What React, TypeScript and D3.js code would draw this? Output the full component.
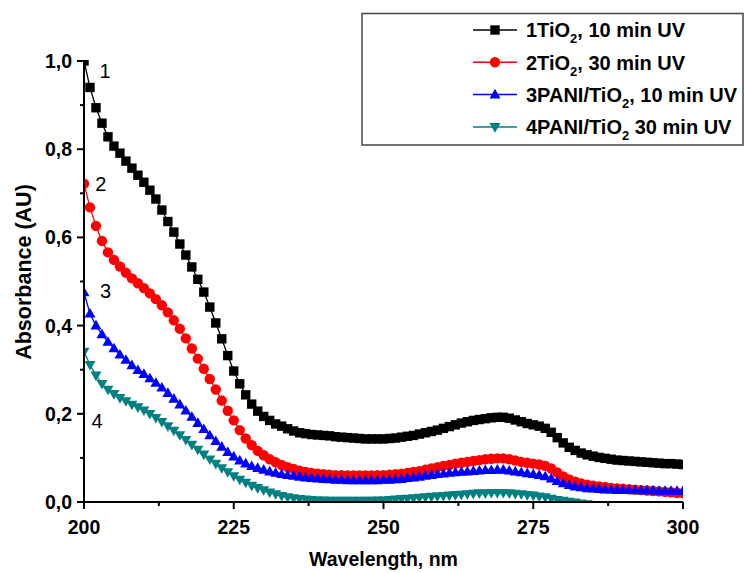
import React from "react";
import * as d3 from "d3";

const wavelengths = d3.range(200, 301, 1);

const series1 = [
  1.000, 0.940, 0.894, 0.859, 0.828, 0.807, 0.791, 0.773, 0.757, 0.741,
  0.725, 0.707, 0.687, 0.662, 0.636, 0.612, 0.585, 0.560, 0.533, 0.505,
  0.476, 0.442, 0.406, 0.370, 0.332, 0.297, 0.268, 0.243, 0.222, 0.206,
  0.194, 0.185, 0.177, 0.172, 0.166, 0.161, 0.157, 0.155, 0.153, 0.152,
  0.151, 0.150, 0.148, 0.147, 0.146, 0.145, 0.144, 0.143, 0.143, 0.143,
  0.143, 0.144, 0.145, 0.147, 0.149, 0.151, 0.154, 0.157, 0.160, 0.163,
  0.167, 0.171, 0.175, 0.179, 0.182, 0.185, 0.187, 0.189, 0.191, 0.192,
  0.192, 0.190, 0.186, 0.182, 0.178, 0.175, 0.172, 0.167, 0.158, 0.146,
  0.134, 0.124, 0.117, 0.111, 0.107, 0.104, 0.101, 0.099, 0.097, 0.095,
  0.094, 0.093, 0.092, 0.091, 0.090, 0.089, 0.088, 0.087, 0.087, 0.086,
  0.085,
];

const series2 = [
  0.722, 0.668, 0.626, 0.592, 0.566, 0.549, 0.534, 0.520, 0.507, 0.496,
  0.485, 0.473, 0.460, 0.446, 0.430, 0.412, 0.393, 0.371, 0.348, 0.325,
  0.302, 0.279, 0.255, 0.230, 0.207, 0.185, 0.163, 0.144, 0.129, 0.116,
  0.106, 0.097, 0.090, 0.084, 0.079, 0.075, 0.071, 0.068, 0.066, 0.064,
  0.063, 0.062, 0.061, 0.061, 0.060, 0.060, 0.060, 0.060, 0.060, 0.061,
  0.061, 0.062, 0.063, 0.064, 0.066, 0.068, 0.070, 0.073, 0.076, 0.079,
  0.082, 0.084, 0.087, 0.089, 0.091, 0.093, 0.095, 0.097, 0.098, 0.099,
  0.099, 0.097, 0.094, 0.091, 0.089, 0.087, 0.085, 0.082, 0.076, 0.067,
  0.058, 0.051, 0.046, 0.042, 0.039, 0.037, 0.035, 0.034, 0.032, 0.031,
  0.030, 0.029, 0.028, 0.027, 0.026, 0.025, 0.024, 0.023, 0.022, 0.021,
  0.020,
];

const series3 = [
  0.475, 0.427, 0.400, 0.380, 0.363, 0.348, 0.334, 0.322, 0.310, 0.299,
  0.290, 0.280, 0.270, 0.259, 0.247, 0.234, 0.221, 0.207, 0.193, 0.179,
  0.165, 0.151, 0.138, 0.125, 0.113, 0.103, 0.094, 0.087, 0.081, 0.077,
  0.073, 0.069, 0.066, 0.063, 0.061, 0.059, 0.057, 0.055, 0.054, 0.053,
  0.052, 0.051, 0.050, 0.050, 0.049, 0.049, 0.049, 0.049, 0.049, 0.049,
  0.050, 0.050, 0.051, 0.052, 0.054, 0.055, 0.057, 0.059, 0.061, 0.063,
  0.064, 0.066, 0.067, 0.068, 0.069, 0.070, 0.071, 0.072, 0.072, 0.073,
  0.073, 0.071, 0.069, 0.067, 0.065, 0.063, 0.061, 0.058, 0.053, 0.047,
  0.042, 0.038, 0.035, 0.033, 0.031, 0.030, 0.029, 0.028, 0.028, 0.027,
  0.027, 0.027, 0.026, 0.026, 0.026, 0.026, 0.025, 0.025, 0.025, 0.025,
  0.025,
];

const series4 = [
  0.341, 0.311, 0.287, 0.268, 0.255, 0.245, 0.236, 0.229, 0.221, 0.215,
  0.208, 0.200, 0.191, 0.182, 0.172, 0.162, 0.152, 0.141, 0.130, 0.119,
  0.108, 0.097, 0.087, 0.077, 0.068, 0.059, 0.051, 0.044, 0.037, 0.032,
  0.027, 0.022, 0.018, 0.014, 0.011, 0.009, 0.007, 0.006, 0.005, 0.004,
  0.004, 0.003, 0.003, 0.003, 0.003, 0.003, 0.003, 0.003, 0.003, 0.004,
  0.004, 0.005, 0.006, 0.007, 0.008, 0.009, 0.010, 0.011, 0.012, 0.013,
  0.014, 0.015, 0.016, 0.017, 0.018, 0.019, 0.020, 0.020, 0.021, 0.021,
  0.021, 0.020, 0.019, 0.018, 0.016, 0.015, 0.013, 0.011, 0.008, 0.005,
  0.003, 0.001, -0.001, -0.003, -0.005, -0.007, -0.009, -0.010, -0.011, -0.012,
  -0.013, -0.014, -0.015, -0.015, -0.016, -0.016, -0.017, -0.017, -0.018, -0.018,
  -0.018,
];

const curveNumbers = ["1", "2", "3", "4"];
const curveNumberPos = [
  { nm: 203.5, v: 0.962 },
  { nm: 202.8, v: 0.706 },
  { nm: 203.6, v: 0.463 },
  { nm: 202.2, v: 0.168 },
];

const legendPrefix = ["1TiO", "2TiO", "3PANI/TiO", "4PANI/TiO"];
const legendSub = ["2", "2", "2", "2"];
const legendSuffix = [", 10 min UV", ", 30 min UV", ", 10 min UV", " 30 min UV"];

const colors = ["#000000", "#ff0000", "#0000ff", "#008080"];
const markerTypes = ["square", "circle", "triangle", "triangleDown"];

const xTicks = [200, 225, 250, 275, 300];
const xMinorTicks = [212.5, 237.5, 262.5, 287.5];
const yTicks = [0, 0.2, 0.4, 0.6, 0.8, 1.0];
const yMinorTicks = [0.1, 0.3, 0.5, 0.7, 0.9];

const xTitle = "Wavelength, nm";
const yTitle = "Absorbance (AU)";

const W = 744;
const H = 573;
const left = 84;
const right = 683;
const top = 61;
const bottom = 502;

const FONT = "Arial, 'Liberation Sans', sans-serif";

function Marker({ type, x, y, color }: { type: string; x: number; y: number; color: string }) {
  if (type === "square") {
    return <rect x={x - 4.7} y={y - 4.7} width={9.4} height={9.4} fill={color} />;
  }
  if (type === "circle") {
    return <circle cx={x} cy={y} r={5.2} fill={color} />;
  }
  const s = 11;
  const h = 9.6;
  if (type === "triangle") {
    const pts = [
      [x, y - h * 0.6],
      [x - s / 2, y + h * 0.4],
      [x + s / 2, y + h * 0.4],
    ];
    return <polygon points={pts.map((p) => p.join(",")).join(" ")} fill={color} />;
  }
  const pts = [
    [x, y + h * 0.6],
    [x - s / 2, y - h * 0.4],
    [x + s / 2, y - h * 0.4],
  ];
  return <polygon points={pts.map((p) => p.join(",")).join(" ")} fill={color} />;
}

export default function App() {
  const x = d3.scaleLinear().domain([200, 300]).range([left, right]);
  const y = d3.scaleLinear().domain([0, 1]).range([bottom, top]);
  const allSeries = [series1, series2, series3, series4];
  const line = d3
    .line<[number, number]>()
    .x((d) => x(d[0]))
    .y((d) => y(d[1]));
  const fmt = (v: number) => d3.format(".1f")(v).replace(".", ",");

  return (
    <svg
      width={W}
      height={H}
      style={{ position: "absolute", left: 0, top: 0, background: "#fff" }}
      fontFamily={FONT}
    >
      <defs>
        <clipPath id="plotClip">
          <rect x={left} y={top - 1} width={right - left} height={bottom - top + 1} />
        </clipPath>
      </defs>

      <g clipPath="url(#plotClip)">
        {allSeries.map((s, i) => {
          const pts: [number, number][] = wavelengths.map((w, j) => [w, s[j]]);
          return (
            <g key={i}>
              <path d={line(pts) || ""} fill="none" stroke={colors[i]} strokeWidth={1.3} />
              {pts.map((p, j) => (
                <Marker key={j} type={markerTypes[i]} x={x(p[0])} y={y(p[1])} color={colors[i]} />
              ))}
            </g>
          );
        })}
      </g>

      {/* axes */}
      <line x1={left} x2={left} y1={top} y2={bottom + 1} stroke="#000" strokeWidth={2} />
      <line x1={left - 1} x2={right} y1={bottom} y2={bottom} stroke="#000" strokeWidth={2} />
      {yTicks.map((t) => (
        <g key={"y" + t}>
          <line x1={left - 7} x2={left} y1={y(t)} y2={y(t)} stroke="#000" strokeWidth={2} />
          <text
            x={left - 12}
            y={y(t)}
            dy="0.36em"
            textAnchor="end"
            fontSize={19.5}
            fontWeight="bold"
          >
            {fmt(t)}
          </text>
        </g>
      ))}
      {yMinorTicks.map((t) => (
        <line key={"ym" + t} x1={left - 4} x2={left} y1={y(t)} y2={y(t)} stroke="#000" strokeWidth={2} />
      ))}
      {xTicks.map((t) => (
        <g key={"x" + t}>
          <line x1={x(t)} x2={x(t)} y1={bottom} y2={bottom + 7} stroke="#000" strokeWidth={2} />
          <text x={x(t)} y={534} textAnchor="middle" fontSize={19.5} fontWeight="bold">
            {t}
          </text>
        </g>
      ))}
      {xMinorTicks.map((t) => (
        <line key={"xm" + t} x1={x(t)} x2={x(t)} y1={bottom} y2={bottom + 4} stroke="#000" strokeWidth={2} />
      ))}

      <text x={(left + right) / 2} y={566} textAnchor="middle" fontSize={19.5} fontWeight="bold">
        {xTitle}
      </text>
      <text
        transform={`translate(31, 272) rotate(-90)`}
        textAnchor="middle"
        fontSize={21.5}
        fontWeight="bold"
      >
        {yTitle}
      </text>

      {curveNumbers.map((c, i) => (
        <text
          key={"c" + i}
          x={x(curveNumberPos[i].nm)}
          y={y(curveNumberPos[i].v)}
          fontSize={20}
          textAnchor="middle"
        >
          {c}
        </text>
      ))}

      {/* legend */}
      <rect x={362} y={13.5} width={381} height={131.5} fill="#fff" stroke="#444" strokeWidth={1.5} />
      {legendPrefix.map((p, i) => {
        const cy = 30 + i * 32.3;
        return (
          <g key={"l" + i}>
            <line x1={473} x2={517} y1={cy} y2={cy} stroke={colors[i]} strokeWidth={1.5} />
            <Marker type={markerTypes[i]} x={495} y={cy} color={colors[i]} />
            <text x={526} y={cy} dy="0.36em" fontSize={20} fontWeight="bold">
              <tspan>{p}</tspan>
              <tspan dy={6} fontSize={13}>
                {legendSub[i]}
              </tspan>
              <tspan dy={-6}>{legendSuffix[i]}</tspan>
            </text>
          </g>
        );
      })}
    </svg>
  );
}
